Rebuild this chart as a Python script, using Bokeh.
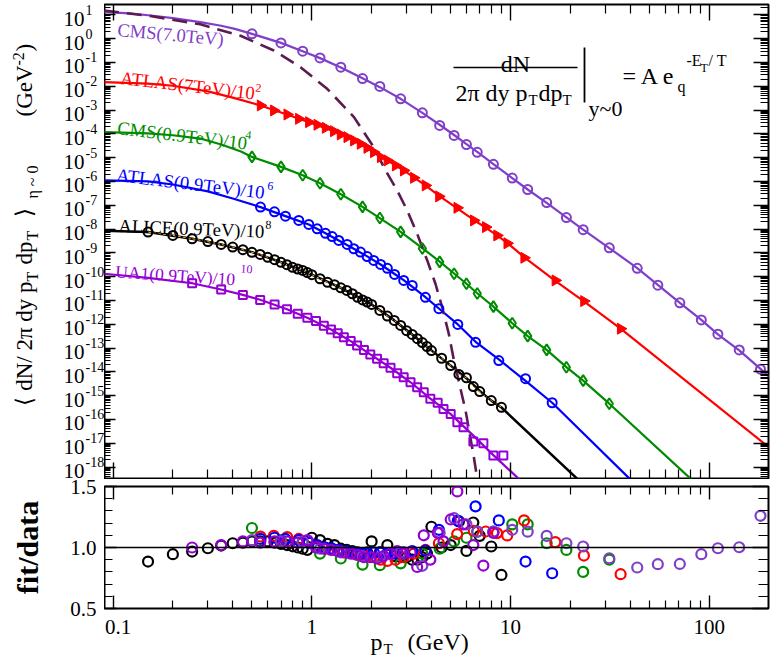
import numpy as np
from bokeh.plotting import figure
from bokeh.models import (FixedTicker, LogAxis, LinearAxis, Label, Range1d, Arrow, Span,
                          PrintfTickFormatter, LinearScale)
from bokeh.layouts import column, row
from bokeh.embed import file_html
from bokeh.resources import INLINE
from bokeh.core.properties import value

FONT = "Liberation Serif"
C_CMS7 = "#7f3fc8"
C_ATLAS7 = "#ff0000"
C_CMS09 = "#008c00"
C_ATLAS09 = "#0000ff"
C_ALICE = "#000000"
C_ALICE2 = "#ffa500"
C_UA1 = "#9400d3"
C_DASH = "#5c1a50"

# ---------------- data (pT in GeV, spectra given as log10 of the value) ----------------
cms7_pt = [0.5, 0.7, 0.9, 1.1, 1.4, 1.8, 2.2, 2.8, 3.6, 4.4, 5.2, 6.0, 6.8, 8.2, 10.2, 12.2,
           15.2, 19.1, 23.2, 31.4, 43.4, 55.1, 71.1, 91.2, 110.5, 141.5, 181.0]
cms7_log10 = [0.20, -0.18, -0.53, -0.81, -1.20, -1.68, -2.01, -2.53, -3.12, -3.65, -4.07, -4.45,
              -4.78, -5.28, -5.86, -6.34, -6.89, -7.52, -8.03, -8.79, -9.65, -10.36, -11.10,
              -11.82, -12.42, -13.08, -13.89]
cms7_ratio = [1.06, 1.05, 1.05, 0.99, 0.96, 0.93, 0.92, 0.96, 0.85, 1.12, 1.24, 1.19, 1.13, 1.13,
              1.145, 1.13, 1.095, 1.035, 1.008, 0.912, 0.836, 0.863, 0.865, 0.945, 0.994, 1.002, 1.26]
cms7_fit_pt = [0.09, 0.12, 0.155, 0.2, 0.275, 0.35, 0.41, 0.5, 0.7, 0.9, 1.1, 1.4, 1.8, 2.2, 2.8,
               3.6, 4.4, 5.2, 6.0, 6.8, 8.2, 10.2, 12.2, 15.2, 19.1, 23.2, 31.4, 43.4, 55.1, 71.1,
               91.2, 110.5, 141.5, 181, 200]
cms7_fit_log10 = [1.12, 1.06, 0.97, 0.86, 0.69, 0.54, 0.41, 0.20, -0.18, -0.53, -0.82, -1.21,
                  -1.67, -2.04, -2.53, -3.12, -3.62, -4.05, -4.43, -4.76, -5.27, -5.86, -6.34,
                  -6.90, -7.51, -8.03, -8.80, -9.64, -10.35, -11.10, -11.82, -12.43, -13.10,
                  -13.88, -14.20]

atlas7_pt = [0.552, 0.644, 0.752, 0.86, 0.966, 1.065, 1.172, 1.29, 1.394, 1.507, 1.627, 1.758,
             1.9, 2.05, 2.22, 2.4, 2.64, 2.9, 3.26, 3.73, 4.36, 5.39, 6.53, 7.5, 8.55, 9.62,
             11.7, 16.8, 23.4, 35.8]
atlas7_log10 = [-2.81, -3.02, -3.19, -3.37, -3.51, -3.62, -3.75, -3.89, -4.03, -4.14, -4.28,
                -4.42, -4.59, -4.77, -4.98, -5.12, -5.33, -5.54, -5.85, -6.17, -6.63, -7.11,
                -7.64, -7.92, -8.27, -8.60, -9.21, -10.16, -11.03, -12.19]
atlas7_ratio = [1.09, 1.095, 1.085, 1.07, 1.04, 1.01, 0.99, 0.98, 0.97, 0.96, 0.95, 0.94, 0.93,
                0.92, 0.90, 0.89, 0.90, 0.92, 0.95, 0.98, 1.035, 1.11, 1.136, 1.131, 1.118,
                1.099, 1.222, 1.044, 0.934, 0.781]
atlas7_fit_pt = [0.09, 0.15, 0.2, 0.3, 0.4, 0.552, 0.75, 1.0, 1.3, 1.6, 2.0, 2.5, 3.0, 3.73, 4.36,
                 5.39, 6.53, 7.5, 8.55, 9.62, 11.7, 16.8, 23.4, 35.8, 200]
atlas7_fit_log10 = [-1.83, -1.89, -1.98, -2.22, -2.48, -2.81, -3.19, -3.55, -3.90, -4.25, -4.72,
                    -5.21, -5.62, -6.17, -6.60, -7.13, -7.62, -7.94, -8.27, -8.58, -9.18,
                    -10.18, -11.04, -12.19, -17.18]

cms09_pt = [0.5, 0.7, 0.9, 1.1, 1.4, 1.8, 2.2, 2.8, 3.6, 4.4, 5.2, 6.0, 6.8, 8.2, 10.2, 12.2,
            15.2, 19.1, 23.2, 31.4]
cms09_log10 = [-4.97, -5.39, -5.74, -6.08, -6.54, -7.07, -7.54, -8.12, -8.82, -9.38, -9.88,
               -10.30, -10.71, -11.26, -11.96, -12.50, -13.08, -13.81, -14.37, -15.34]
cms09_ratio = [1.16, 1.06, 1.04, 0.95, 0.91, 0.86, 0.855, 0.87, 0.95, 0.99, 1.05, 1.08, 1.13,
               1.13, 1.19, 1.19, 1.035, 0.98, 0.80, 0.90]
cms09_fit_pt = [0.09, 0.15, 0.2, 0.275, 0.35, 0.44, 0.5, 0.7, 0.9, 1.1, 1.4, 1.8, 2.2, 2.8, 3.6,
                4.4, 5.2, 6.0, 6.8, 8.2, 10.2, 12.2, 15.2, 19.1, 23.2, 31.4, 80.7, 90]
cms09_fit_log10 = [-3.93, -3.98, -4.06, -4.20, -4.45, -4.74, -4.97, -5.39, -5.74, -6.08, -6.54,
                   -7.07, -7.54, -8.12, -8.80, -9.37, -9.87, -10.30, -10.70, -11.26, -11.96,
                   -12.50, -13.08, -13.80, -14.37, -15.34, -18.50, -18.86]

atlas09_pt = [0.552, 0.649, 0.737, 0.86, 0.966, 1.065, 1.172, 1.266, 1.367, 1.507, 1.627, 1.758,
              1.9, 2.05, 2.22, 2.4, 2.61, 2.9, 3.2, 3.73, 4.36, 5.43, 6.67, 8.73, 11.9, 16.2]
atlas09_log10 = [-7.08, -7.28, -7.46, -7.64, -7.81, -7.99, -8.18, -8.32, -8.48, -8.65, -8.83,
                 -8.97, -9.16, -9.32, -9.49, -9.65, -9.91, -10.16, -10.37, -10.87, -11.35,
                 -12.01, -12.76, -13.53, -14.29, -15.30]
atlas09_ratio = [1.07, 1.08, 1.07, 1.06, 1.04, 1.02, 1.0, 0.99, 0.98, 0.97, 0.96, 0.95, 0.95,
                 0.96, 0.96, 0.95, 0.95, 0.96, 0.97, 0.975, 1.145, 1.22, 1.337, 1.222, 0.885, 0.789]
atlas09_fit_pt = [0.09, 0.15, 0.2, 0.3, 0.4, 0.552, 0.737, 0.966, 1.172, 1.367, 1.627, 1.9, 2.22,
                  2.61, 2.9, 3.2, 3.73, 4.36, 5.43, 6.67, 8.73, 11.9, 16.2, 39.8, 45]
atlas09_fit_log10 = [-5.96, -6.0, -6.13, -6.42, -6.72, -7.08, -7.46, -7.81, -8.18, -8.48, -8.83,
                     -9.15, -9.49, -9.89, -10.15, -10.42, -10.86, -11.34, -12.01, -12.74, -13.48,
                     -14.38, -15.30, -18.50, -18.95]

alice_pt = [0.15, 0.2, 0.25, 0.3, 0.35, 0.4, 0.45, 0.5, 0.55, 0.6, 0.65, 0.7, 0.75, 0.8, 0.85,
            0.9, 0.95, 1.0, 1.1, 1.2, 1.3, 1.4, 1.5, 1.6, 1.7, 1.8, 1.9, 2.0, 2.2, 2.4, 2.6, 2.8,
            3.0, 3.2, 3.4, 3.6, 3.8, 4.0, 4.5, 5.0, 5.5, 6.0, 6.5, 7.0, 8.0, 9.0]
alice_log10 = [-8.13, -8.27, -8.41, -8.53, -8.65, -8.76, -8.87, -8.98, -9.07, -9.19, -9.29,
               -9.40, -9.50, -9.61, -9.68, -9.74, -9.83, -9.92, -10.09, -10.24, -10.34, -10.47,
               -10.58, -10.72, -10.87, -10.98, -11.07, -11.17, -11.42, -11.66, -11.84, -12.05,
               -12.27, -12.43, -12.61, -12.77, -12.94, -13.11, -13.43, -13.74, -14.11, -14.25,
               -14.62, -14.83, -15.21, -15.49]
alice_ratio = [0.885, 0.945, 0.967, 0.994, 1.016, 1.035, 1.04, 1.05, 1.05, 1.05, 1.04, 1.03,
               1.02, 1.01, 1.0, 0.99, 0.98, 1.08, 1.06, 1.03, 1.02, 0.99, 0.98, 0.97, 0.96, 0.95,
               0.96, 1.05, 0.96, 1.02, 0.93, 0.92, 0.92, 0.90, 0.90, 0.92, 0.95, 1.17, 1.0, 1.02,
               1.214, 0.972, 1.205, 1.095, 1.008, 0.775]
alice_fit_pt = [0.09, 0.15, 0.25, 0.35, 0.5, 0.7, 1.0, 1.4, 2.0, 2.6, 3.2, 4.0, 5.0, 6.0, 7.0,
                8.0, 9.0, 21.7, 25]
alice_fit_log10 = [-8.07, -8.13, -8.41, -8.65, -8.97, -9.39, -9.92, -10.47, -11.17, -11.84,
                   -12.43, -13.10, -13.74, -14.27, -14.80, -15.21, -15.50, -18.50, -18.95]

ua1_pt = [0.25, 0.35, 0.45, 0.55, 0.65, 0.75, 0.85, 0.95, 1.05, 1.15, 1.25, 1.35, 1.45, 1.57,
          1.69, 1.83, 1.97, 2.13, 2.3, 2.49, 2.69, 2.9, 3.14, 3.39, 3.66, 3.95, 4.3, 4.6, 5.0,
          5.4, 5.8, 6.5, 7.3, 8.2, 9.2]
ua1_log10 = [-10.28, -10.54, -10.77, -10.98, -11.17, -11.37, -11.56, -11.73, -11.87, -12.06,
             -12.22, -12.38, -12.55, -12.71, -12.90, -13.08, -13.27, -13.45, -13.64, -13.83,
             -14.06, -14.23, -14.44, -14.65, -14.86, -15.13, -15.30, -15.56, -15.77, -16.12,
             -16.33, -16.93, -17.00, -17.52, -17.52]
ua1_ratio_pt = [0.25, 0.35, 0.45, 0.55, 0.65, 0.75, 0.85, 0.95, 1.05, 1.15, 1.25, 1.35, 1.45,
                1.57, 1.69, 1.83, 1.97, 2.13, 2.3, 2.49, 2.69, 2.9, 3.14, 3.39, 3.66, 3.95, 4.3,
                4.6, 5.0, 5.4, 5.8, 6.5, 7.3, 8.2]
ua1_ratio = [1.0, 1.02, 1.05, 1.04, 1.05, 1.05, 1.04, 1.06, 1.0, 0.99, 0.98, 0.97, 0.96, 0.95,
             0.94, 0.92, 0.92, 0.91, 0.93, 0.95, 0.97, 0.95, 0.96, 0.84, 1.10, 0.90, 1.12, 1.05,
             1.23, 1.46, 1.19, 1.02, 0.852, 1.12]
ua1_fit_pt = [0.09, 0.15, 0.25, 0.35, 0.45, 0.55, 0.75, 0.95, 1.25, 1.57, 1.97, 2.49, 3.14, 3.95,
              5.0, 6.5, 8.2, 11.0, 12.0]
ua1_fit_log10 = [-9.88, -10.05, -10.28, -10.54, -10.77, -10.97, -11.37, -11.73, -12.22, -12.71,
                 -13.27, -13.83, -14.44, -15.13, -15.78, -16.68, -17.50, -18.50, -18.80]

dashed_pt = [0.09, 0.154, 0.275, 0.438, 0.644, 0.877, 1.195, 1.63, 2.05, 2.35, 2.69, 3.02, 3.39,
             3.81, 4.19, 4.53, 4.89, 5.19, 5.94, 6.54, 6.80, 7.0]
dashed_log10 = [1.18, 0.95, 0.60, 0.12, -0.50, -1.20, -2.11, -3.30, -4.56, -5.54, -6.38, -7.22,
                -8.20, -9.32, -10.30, -11.29, -12.40, -13.52, -15.63, -17.59, -18.50, -19.2]

x_tick_values = [0.1, 1.0, 10.0, 100.0]
x_tick_labels = ["0.1", "1", "10", "100"]
ratio_ticks = [0.5, 1.0, 1.5]
ratio_tick_labels = ["0.5", "1.0", "1.5"]
y_exponents = list(range(-18, 2))


def pw(a):
    return 10.0 ** np.asarray(a, float)


# ---------------- geometry (page pixels) ----------------
W, H = 772, 658
FL, FR = 104, 768                 # frame left / right
T1, B1 = 4, 478                   # main frame top / bottom
T2, B2 = 486, 608                 # ratio frame top / bottom
LX0, LX1 = -1.043, 2.298          # log10 of x-range ends
LY0, LY1 = -18.483, 1.433         # log10 of y-range ends (main panel)
DEC = (FR - FL) / (LX1 - LX0)     # px per decade on x
DECY = (B1 - T1) / (LY1 - LY0)    # px per decade on y
RPX = (B2 - T2) / 1.0             # px per unit of fit/data
X_LO, X_HI = 10 ** LX0, 10 ** LX1
Y_LO, Y_HI = 10 ** LY0, 10 ** LY1

minor_x = [m * 10.0 ** k for k in range(-2, 3) for m in range(2, 10) if X_LO < m * 10.0 ** k < X_HI]
major_y = [10.0 ** k for k in y_exponents]
minor_y = [m * 10.0 ** k for k in range(-19, 2) for m in range(2, 10) if Y_LO < m * 10.0 ** k < Y_HI]
minor_r = [0.6, 0.7, 0.8, 0.9, 1.1, 1.2, 1.3, 1.4]


def style_axis(ax, ticker, maj_in, min_in):
    ax.ticker = ticker
    ax.axis_line_color = None
    ax.major_tick_in = maj_in
    ax.major_tick_out = 0
    ax.minor_tick_in = min_in
    ax.minor_tick_out = 0
    ax.major_tick_line_width = 1.4
    ax.minor_tick_line_width = 1.2
    ax.major_tick_line_color = "black"
    ax.minor_tick_line_color = "black"
    ax.formatter = PrintfTickFormatter(format="")
    ax.major_label_text_font_size = "0px"
    ax.major_label_standoff = 0
    ax.axis_label = None


def clean(p):
    p.grid.visible = False
    p.background_fill_color = "white"
    p.border_fill_color = "white"
    if "frame_align" in p.properties():
        p.frame_align = False
    return p


def strip(width, height, **kw):
    p = figure(width=width, height=height, output_backend="svg", toolbar_location=None,
               x_axis_location=None, y_axis_location=None, min_border_left=0,
               min_border_right=0, min_border_top=0, min_border_bottom=0, **kw)
    p.outline_line_color = None
    return clean(p)


def panel(height, y_type, y_range, top, bottom, x_ticks, y_ticks, xin, yin):
    p = figure(width=W - FL, height=height, x_axis_type="log", y_axis_type=y_type,
               x_range=XR, y_range=y_range, output_backend="svg", toolbar_location=None,
               min_border_left=0, min_border_right=W - FR, min_border_top=top,
               min_border_bottom=bottom)
    p.outline_line_color = "black"
    p.outline_line_width = 2
    clean(p)
    style_axis(p.xaxis[0], x_ticks, *xin)
    style_axis(p.yaxis[0], y_ticks, *yin)
    ax = LogAxis()
    style_axis(ax, x_ticks, *xin)
    p.add_layout(ax, "above")
    ax = LogAxis() if y_type == "log" else LinearAxis()
    style_axis(ax, y_ticks, yin[0] + 4, yin[1] + 2)
    p.add_layout(ax, "right")
    return p


XR = Range1d(X_LO, X_HI)
XT = FixedTicker(ticks=x_tick_values, minor_ticks=minor_x)

# ---------------- main panel ----------------
H1 = B1 + 1
p1 = panel(H1, "log", Range1d(Y_LO, Y_HI), T1, 1, XT,
           FixedTicker(ticks=major_y, minor_ticks=minor_y), (16, 9), (11, 6))

LW = 2.2
p1.line(cms7_fit_pt, pw(cms7_fit_log10), line_color=C_CMS7, line_width=LW)
p1.line(atlas7_fit_pt, pw(atlas7_fit_log10), line_color=C_ATLAS7, line_width=LW)
p1.line(cms09_fit_pt, pw(cms09_fit_log10), line_color=C_CMS09, line_width=LW)
p1.line(atlas09_fit_pt, pw(atlas09_fit_log10), line_color=C_ATLAS09, line_width=LW)
p1.line(alice_fit_pt, pw(alice_fit_log10), line_color=C_ALICE, line_width=LW + 0.3)
p1.line(alice_pt, pw(alice_log10), line_color=C_ALICE2, line_width=1.0, line_dash="3 2")
p1.line(ua1_fit_pt, pw(ua1_fit_log10), line_color=C_UA1, line_width=LW)
p1.line(dashed_pt, pw(dashed_log10), line_color=C_DASH, line_width=2.6, line_dash="15 8")

p1.scatter(cms7_pt, pw(cms7_log10), marker="circle", size=9, fill_color=None,
           line_color=C_CMS7, line_width=2)
p1.scatter(atlas7_pt, pw(atlas7_log10), marker="triangle", angle=-np.pi / 2, size=11,
           fill_color=C_ATLAS7, line_color=C_ATLAS7, line_width=1)
p1.scatter(cms09_pt, pw(cms09_log10), marker="diamond", size=11, fill_color=None,
           line_color=C_CMS09, line_width=2)
p1.scatter(atlas09_pt, pw(atlas09_log10), marker="circle", size=9, fill_color=None,
           line_color=C_ATLAS09, line_width=2)
p1.scatter(alice_pt, pw(alice_log10), marker="circle", size=9, fill_color=None,
           line_color=C_ALICE, line_width=2)
p1.scatter(ua1_pt, pw(ua1_log10), marker="square", size=8, fill_color=None,
           line_color=C_UA1, line_width=2)


def lab(p, x, y, text, size, color="black", angle=0.0, align="left"):
    p.add_layout(Label(x=x, y=y, x_units="screen", y_units="screen", text=text,
                       text_font=FONT, text_font_size=f"{size}px", text_color=color,
                       text_align=align, text_baseline="alphabetic", angle=angle))


# series labels (inside the frame)
SL = 18.6
lab(p1, 13, 449, "CMS(7.0TeV)", SL, C_CMS7, angle=-0.09)
lab(p1, 16, 401, "ATLAS(7TeV)/10", SL, C_ATLAS7, angle=-0.115)
lab(p1, 151, 391, "2", 12, C_ATLAS7, angle=-0.115)
lab(p1, 13, 351, "CMS(0.9TeV)/10", SL, C_CMS09, angle=-0.12)
lab(p1, 141, 344, "4", 12, C_CMS09, angle=-0.12)
lab(p1, 12, 304, "ATLAS(0.9TeV)/10", SL, C_ATLAS09, angle=-0.12)
lab(p1, 163, 293, "6", 12, C_ATLAS09, angle=-0.12)
lab(p1, 14, 253, "ALICE(0.9TeV)/10", SL, C_ALICE, angle=-0.04)
lab(p1, 161, 254, "8", 12, C_ALICE, angle=-0.04)
lab(p1, 11, 207, "UA1(0.9TeV)/10", 17.5, C_UA1, angle=-0.066)
lab(p1, 136, 210, "10", 12, C_UA1, angle=-0.066)

# formula
lab(p1, 411, 415, "dN", 24, align="center")
p1.add_layout(Arrow(end=None, x_start=349, y_start=411, x_end=473, y_end=411,
                    start_units="screen", end_units="screen", line_width=1.5,
                    line_color="black"))
lab(p1, 351, 386, "2\u03c0 dy p", 24)
lab(p1, 424, 379, "T", 15)
lab(p1, 434, 386, "dp", 24)
lab(p1, 458, 379, "T", 15)
p1.add_layout(Arrow(end=None, x_start=480, y_start=431, x_end=480, y_end=376,
                    start_units="screen", end_units="screen", line_width=1.8,
                    line_color="black"))
lab(p1, 484, 370, "y~0", 22)
lab(p1, 518, 403, "= A e", 24)
lab(p1, 573, 392, "q", 16)
lab(p1, 582, 418, "-E", 16)
lab(p1, 596, 411, "T", 12)
lab(p1, 604, 418, " / T", 16)

# ---------------- ratio panel ----------------
H2 = B2 + 8 - H1
p2 = panel(H2, "linear", Range1d(0.5, 1.5), T2 - H1, 8, XT,
           FixedTicker(ticks=ratio_ticks, minor_ticks=minor_r), (13, 8), (12, 8))
p2.add_layout(Span(location=1.0, dimension="width", line_color="black", line_width=1.5))

RS = dict(marker="circle", size=10, fill_color=None, line_width=2.2)
p2.scatter(alice_pt, alice_ratio, line_color=C_ALICE, **RS)
p2.scatter(cms09_pt, cms09_ratio, line_color=C_CMS09, **RS)
p2.scatter(atlas7_pt, atlas7_ratio, line_color=C_ATLAS7, **RS)
p2.scatter(atlas09_pt, atlas09_ratio, line_color=C_ATLAS09, **RS)
p2.scatter(cms7_pt, cms7_ratio, line_color=C_CMS7, **RS)
p2.scatter(ua1_ratio_pt, ua1_ratio, line_color=C_UA1, **RS)

# ---------------- left strip: y tick labels and both y titles ----------------
LF = strip(FL, H, x_range=Range1d(0, FL), y_axis_type="log",
           y_range=Range1d(10 ** (LY0 - (H - B1) / DECY), 10 ** (LY1 + T1 / DECY)))
LF.extra_y_ranges = {"r": Range1d(0.5 - (H - B2) / RPX, 1.5 + T2 / RPX),
                     "px": Range1d(0, H)}
LF.extra_y_scales = {"r": LinearScale(), "px": LinearScale()}
TXT = dict(text_font=value(FONT), text_color="black", text_baseline=value("middle"))
LF.text(x=84, y=major_y, text=["10"] * len(major_y), text_align=value("right"),
        text_font_size=value("21px"), y_offset=4, **TXT)
LF.text(x=85, y=major_y, text=[str(k) for k in y_exponents], text_align=value("left"),
        text_font_size=value("14px"), y_offset=-5, **TXT)
LF.text(x=96, y=ratio_ticks, text=ratio_tick_labels, text_align=value("right"),
        y_range_name="r", text_font_size=value("21px"), **TXT)
LF.text(x=[27], y=[1.0], text=["fit/data"], angle=np.pi / 2, text_align=value("center"),
        y_range_name="r", text_font_size=value("30px"), text_font_style=value("bold"), **TXT)

HP = np.pi / 2
title_pieces = [  # (x, position along the axis from the bottom of the page, text, size)
    (24, 253, "\u27e8 dN/ 2\u03c0 dy p", 23),
    (32, 377, "T", 16),
    (24, 394, "dp", 23),
    (32, 418, "T", 16),
    (24, 442, "\u27e9", 23),
    (32, 460, "\u03b7 ~ 0", 16),
    (24, 542, "(GeV", 23),
    (18, 593, "-2", 16),
    (24, 607, ")", 23),
]
for (tx, ty, tt, ts) in title_pieces:
    LF.text(x=[tx], y=[ty], text=[tt], angle=HP, text_align=value("left"), y_range_name="px",
            text_font_size=value(f"{ts}px"), **TXT)

# ---------------- bottom strip: x tick labels and x title ----------------
BH = H - (B2 + 8)
B = strip(W - FL, BH, x_axis_type="log",
          x_range=Range1d(X_LO, 10 ** (LX1 + (W - FR) / DEC)), y_range=Range1d(0, BH))
B.extra_x_ranges = {"px": Range1d(FL, W)}
B.extra_x_scales = {"px": LinearScale()}
B.text(x=x_tick_values[:1], y=31.5, text=x_tick_labels[:1], text_align=value("center"),
       x_offset=5, text_font_size=value("21px"), **TXT)
B.text(x=x_tick_values[1:], y=31.5, text=x_tick_labels[1:], text_align=value("center"),
       text_font_size=value("21px"), **TXT)
B.text(x=[370], y=[17], text=["p"], text_align=value("left"), x_range_name="px",
       text_font_size=value("24px"), **TXT)
B.text(x=[383], y=[10], text=["T"], text_align=value("left"), x_range_name="px",
       text_font_size=value("15px"), **TXT)
B.text(x=[407], y=[17], text=["(GeV)"], text_align=value("left"), x_range_name="px",
       text_font_size=value("24px"), **TXT)

layout = row(LF, column(p1, p2, B, spacing=0), spacing=0)
open("out.html", "w").write(file_html(layout, INLINE))
